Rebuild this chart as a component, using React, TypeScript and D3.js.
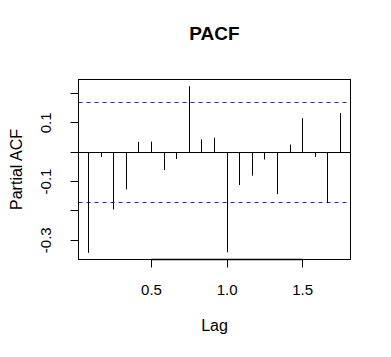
import React from "react";
import * as d3 from "d3";

const lagIndex = [1, 2, 3, 4, 5, 6, 7, 8, 9, 10, 11, 12, 13, 14, 15, 16, 17, 18, 19, 20, 21];
const pacfValues = [-0.343, -0.016, -0.195, -0.127, 0.035, 0.036, -0.061, -0.023, 0.225, 0.044, 0.049, -0.341, -0.112, -0.080, -0.025, -0.143, 0.026, 0.116, -0.016, -0.172, 0.133];
const frequency = 12;
const confLimit = 0.171;
const yTicks = [0.2, 0.1, 0, -0.1, -0.2, -0.3];
const yTickLabels = ["", "0.1", "", "-0.1", "", "-0.3"];
const xTicks = [0.5, 1.0, 1.5];
const xTickLabels = ["0.5", "1.0", "1.5"];
const title = "PACF";
const xLabel = "Lag";
const yLabel = "Partial ACF";

const W = 391;
const H = 357;
const box = { left: 78.5, right: 350.5, top: 79.5, bottom: 259.5 };
const font = "'Liberation Sans', Arial, Helvetica, sans-serif";
const snap = (v: number) => Math.round(v - 0.5) + 0.5;

export default function App() {
  const lags = lagIndex.map((k) => k / frequency);
  const xmin = d3.min(lags)!;
  const xmax = d3.max(lags)!;
  const xpad = (xmax - xmin) * 0.04;
  const ymin = Math.min(d3.min(pacfValues)!, -confLimit);
  const ymax = Math.max(d3.max(pacfValues)!, confLimit);
  const ypad = (ymax - ymin) * 0.04;
  const x = d3.scaleLinear().domain([xmin - xpad, xmax + xpad]).range([box.left, box.right]);
  const y = d3.scaleLinear().domain([ymin - ypad, ymax + ypad]).range([box.bottom, box.top]);
  const tickLen = 8;
  const cx = (box.left + box.right) / 2;
  const cy = (box.top + box.bottom) / 2;
  const y0 = snap(y(0));

  return (
    <svg width={W} height={H} style={{ position: "absolute", left: 0, top: 0, background: "#fff" }} fontFamily={font}>
      <rect x={0} y={0} width={W} height={H} fill="#fff" />
      <text x={cx} y={40} textAnchor="middle" fontSize={19} fontWeight="bold">{title}</text>
      {/* zero line */}
      <line x1={box.left} x2={box.right} y1={y0} y2={y0} stroke="#000" strokeWidth={1} />
      {/* confidence lines */}
      {[confLimit, -confLimit].map((c, i) => (
        <line key={i} x1={box.left} x2={box.right} y1={snap(y(c))} y2={snap(y(c))} stroke="#2222cc" strokeWidth={1} strokeDasharray="4,4" />
      ))}
      {/* bars */}
      {lags.map((l, i) => (
        <line key={i} x1={snap(x(l))} x2={snap(x(l))} y1={y0} y2={y(pacfValues[i])} stroke="#000" strokeWidth={1} />
      ))}
      {/* box */}
      <rect x={box.left} y={box.top} width={box.right - box.left} height={box.bottom - box.top} fill="none" stroke="#000" strokeWidth={1} />
      {/* y axis */}
      <line x1={box.left} x2={box.left} y1={snap(y(yTicks[0]))} y2={snap(y(yTicks[yTicks.length - 1]))} stroke="#000" />
      {yTicks.map((t, i) => (
        <g key={i}>
          <line x1={box.left - tickLen} x2={box.left} y1={snap(y(t))} y2={snap(y(t))} stroke="#000" />
          {yTickLabels[i] && (
            <text transform={`translate(${box.left - 28},${y(t)}) rotate(-90)`} textAnchor="middle" fontSize={15}>{yTickLabels[i]}</text>
          )}
        </g>
      ))}
      {/* x axis */}
      <line x1={snap(x(xTicks[0]))} x2={snap(x(xTicks[xTicks.length - 1]))} y1={box.bottom} y2={box.bottom} stroke="#000" strokeWidth={1.5} />
      {xTicks.map((t, i) => (
        <g key={i}>
          <line x1={snap(x(t))} x2={snap(x(t))} y1={box.bottom} y2={box.bottom + tickLen} stroke="#000" />
          <text x={x(t)} y={295} textAnchor="middle" fontSize={15}>{xTickLabels[i]}</text>
        </g>
      ))}
      <text x={cx} y={331} textAnchor="middle" fontSize={16}>{xLabel}</text>
      <text transform={`translate(22,${cy}) rotate(-90)`} textAnchor="middle" fontSize={16}>{yLabel}</text>
    </svg>
  );
}
